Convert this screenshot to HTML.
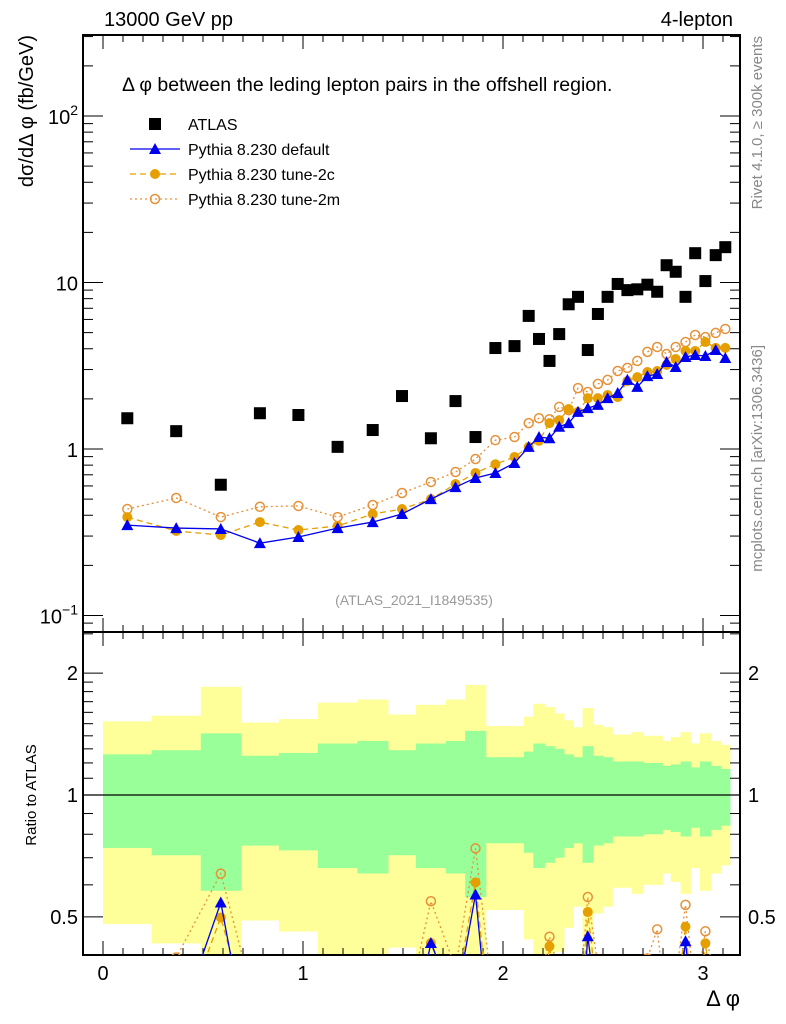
<!DOCTYPE html>
<html><head><meta charset="utf-8"><style>
html,body{margin:0;padding:0;background:#fff;width:786px;height:1024px;overflow:hidden}
svg{display:block;font-family:"Liberation Sans",sans-serif}
</style></head><body>
<svg id="c" width="786" height="1024" viewBox="0 0 786 1024"></svg>
<script>
const edges=[0,0.243,0.489,0.689,0.88,1.074,1.272,1.425,1.565,1.714,1.811,1.914,2.01,2.105,2.152,2.208,2.257,2.305,2.352,2.398,2.45,2.499,2.547,2.6,2.644,2.699,2.745,2.797,2.839,2.888,2.937,2.985,3.039,3.088,3.135];
const atlas=[1.53,1.28,0.61,1.64,1.6,1.03,1.3,2.08,1.16,1.94,1.18,4.04,4.15,6.3,4.58,3.38,4.9,7.4,8.2,3.93,6.47,8.2,9.8,9.0,9.1,9.7,8.8,12.7,11.6,8.2,15.0,10.2,14.6,16.3];
const pyDefault=[0.349,0.335,0.331,0.272,0.296,0.335,0.364,0.407,0.50,0.59,0.67,0.718,0.824,1.03,1.18,1.16,1.36,1.43,1.67,1.76,1.84,2.02,2.17,2.6,2.36,2.74,2.82,3.33,3.11,3.57,3.67,3.62,3.93,3.52];
const pyTune2c=[0.39,0.322,0.304,0.364,0.326,0.345,0.407,0.436,0.50,0.616,0.718,0.81,0.895,1.03,1.12,1.43,1.49,1.74,1.67,2.02,2.02,2.11,2.05,2.56,2.7,2.9,2.94,3.2,3.47,3.88,3.88,4.39,4.05,4.05];
const pyTune2m=[0.436,0.508,0.39,0.45,0.455,0.39,0.461,0.544,0.634,0.727,0.871,1.13,1.18,1.43,1.53,1.51,1.79,1.71,2.32,2.2,2.46,2.6,2.94,3.07,3.38,3.83,4.1,3.72,4.1,4.39,4.84,4.7,4.98,5.26];
const relTotal=[0.52,0.57,0.85,0.51,0.54,0.69,0.72,0.58,0.67,0.72,0.87,0.48,0.48,0.56,0.68,0.65,0.59,0.53,0.47,0.64,0.49,0.47,0.41,0.41,0.43,0.40,0.40,0.36,0.39,0.43,0.34,0.42,0.36,0.33];
const relStat=[0.26,0.29,0.42,0.25,0.27,0.34,0.36,0.29,0.34,0.36,0.44,0.24,0.24,0.28,0.34,0.32,0.30,0.26,0.24,0.32,0.25,0.24,0.21,0.21,0.21,0.20,0.20,0.18,0.19,0.21,0.17,0.21,0.18,0.16];
const xTicks=[0,1,2,3];

const NS="http://www.w3.org/2000/svg";
const svg=document.getElementById('c');
function el(tag,attrs,parent){const e=document.createElementNS(NS,tag);for(const k in attrs)e.setAttribute(k,attrs[k]);(parent||svg).appendChild(e);return e;}
const L=83,R=740,T=35,MB=632,RB=955;
const X=v=>103+v*200;
const Y=v=>449-166.5*Math.log10(v);
const RY=v=>795-405*Math.log10(v);
const centers=atlas.map((_,i)=>(edges[i]+edges[i+1])/2);

const defs=el('defs',{});
const c1=el('clipPath',{id:'cm'},defs);el('rect',{x:L,y:T,width:R-L,height:MB-T},c1);
const c2=el('clipPath',{id:'cr'},defs);el('rect',{x:L,y:MB,width:R-L,height:RB-MB},c2);

const gb=el('g',{'clip-path':'url(#cr)'});


for(let i=0;i<atlas.length;i++){
  const x0=X(edges[i]),x1=X(edges[i+1]);
  const y=el('rect',{x:x0,y:RY(1+relTotal[i]),width:x1-x0+0.5,height:RY(Math.max(1-relTotal[i],0.05))-RY(1+relTotal[i]),fill:'#ffff99'},gb);
  
  
}
for(let i=0;i<atlas.length;i++){
  const x0=X(edges[i]),x1=X(edges[i+1]);
  const g=el('rect',{x:x0,y:RY(1+relStat[i]),width:x1-x0+0.5,height:RY(1-relStat[i])-RY(1+relStat[i]),fill:'#99ff99'},gb);
  
  
}
const one=el('line',{x1:L,x2:R,y1:RY(1),y2:RY(1),stroke:'#000','stroke-width':1.2});



const f1=el('rect',{x:L,y:T,width:R-L,height:MB-T,fill:'none',stroke:'#000','stroke-width':2});


const f2=el('rect',{x:L,y:MB,width:R-L,height:RB-MB,fill:'none',stroke:'#000','stroke-width':2});



for(let k=0;k<=31;k++){const v=k/10;const x=X(v);if(x>R)break;const maj=k%10===0;const len=maj?14:7;
  [[T,1],[MB,-1],[MB,1],[RB,-1]].forEach(([y0,d])=>el('line',{x1:x,x2:x,y1:y0,y2:y0+d*len,stroke:'#000','stroke-width':1}));}
xTicks.forEach(v=>{const t=el('text',{x:X(v),y:980,'font-size':20,'text-anchor':'middle'});t.textContent=v;
  });
for(let e=-2;e<=2;e++)for(let m=1;m<=9;m++){const v=m*Math.pow(10,e);const y=Y(v);if(y<T||y>MB)continue;const len=m===1?20:10;
  el('line',{x1:L,x2:L+len,y1:y,y2:y,stroke:'#000'});el('line',{x1:R,x2:R-len,y1:y,y2:y,stroke:'#000'});}
[[100,'10','2'],[10,'10',''],[1,'1',''],[0.1,'10','−1']].forEach(([v,b,s])=>{const t=el('text',{x:78,y:Y(v)+8,'font-size':20,'text-anchor':'end'});
  
  t.textContent=b;if(s){const sp=el('tspan',{dy:-9,'font-size':14},t);sp.textContent=s;}});
[0.4,0.5,0.6,0.7,0.8,0.9,1,1.1,1.2,1.3,1.4,1.5,1.6,1.7,1.8,1.9,2,2.5].forEach(v=>{const y=RY(v);if(y<MB||y>RB)return;const maj=(v===0.5||v===1||v===2);const len=maj?20:10;
  el('line',{x1:L,x2:L+len,y1:y,y2:y,stroke:'#000'});el('line',{x1:R,x2:R-len,y1:y,y2:y,stroke:'#000'});});
[[2,'2'],[1,'1'],[0.5,'0.5']].forEach(([v,s])=>{const a=el('text',{x:78,y:RY(v)+7,'font-size':20,'text-anchor':'end'});a.textContent=s;
  
  const b=el('text',{x:748,y:RY(v)+7,'font-size':20});b.textContent=s;
  });

const series=[
 {d:pyDefault,c:'#0000ee',dash:'',m:'tri',name:'pythia-default'},
 {d:pyTune2c,c:'#e69f00',dash:'6,4',m:'dot',name:'pythia-tune-2c'},
 {d:pyTune2m,c:'#e69138',dash:'2,3',m:'ring',name:'pythia-tune-2m'}];
function marker(type,x,y,c,g){
  if(type==='tri')return el('path',{d:`M${x},${y-6}L${x+6},${y+5}L${x-6},${y+5}Z`,fill:c},g);
  if(type==='dot')return el('circle',{cx:x,cy:y,r:5,fill:c},g);
  if(type==='ring')return el('circle',{cx:x,cy:y,r:4.5,fill:'none',stroke:c,'stroke-width':1.5},g);
  return el('rect',{x:x-6,y:y-6,width:12,height:12,fill:c},g);
}
[series[2],series[1],series[0]].forEach(s=>{
  const g=el('g',{'clip-path':'url(#cm)'});
  
  
  el('polyline',{points:s.d.map((v,i)=>X(centers[i])+','+Y(v)).join(' '),fill:'none',stroke:s.c,'stroke-width':1.3,'stroke-dasharray':s.dash},g);
  s.d.forEach((v,i)=>{const m=marker(s.m,X(centers[i]),Y(v),s.c,g);});
  const gr=el('g',{'clip-path':'url(#cr)'});
  
  
  const r=s.d.map((v,i)=>v/atlas[i]);
  el('polyline',{points:r.map((v,i)=>X(centers[i])+','+RY(v)).join(' '),fill:'none',stroke:s.c,'stroke-width':1.3,'stroke-dasharray':s.dash},gr);
  r.forEach((v,i)=>{const m=marker(s.m,X(centers[i]),RY(v),s.c,gr);});
});
const ga=el('g',{'clip-path':'url(#cm)'});


atlas.forEach((v,i)=>{const m=marker('sq',X(centers[i]),Y(v),'#000',ga);});

const lg=el('g',{});


const items=[['sq','#000','','ATLAS'],['tri','#0000ee','','Pythia 8.230 default'],['dot','#e69f00','6,4','Pythia 8.230 tune-2c'],['ring','#e69138','2,3','Pythia 8.230 tune-2m']];
items.forEach((it,k)=>{const y=124+k*25;
  if(k>0)el('line',{x1:130,x2:180,y1:y,y2:y,stroke:it[1],'stroke-width':1.3,'stroke-dasharray':it[2]},lg);
  marker(it[0],155,y,it[1],lg);
  const t=el('text',{x:188,y:y+6,'font-size':16},lg);t.textContent=it[3];
  });

function txt(s,a,name){const t=el('text',a);t.textContent=s;return t;}
txt('13000 GeV pp',{x:104,y:26,'font-size':20},'energy-label');
txt('4-lepton',{x:733,y:26,'font-size':20,'text-anchor':'end'},'process-label');
txt('Δ φ between the leding lepton pairs in the offshell region.',{x:122,y:91,'font-size':19.5},'plot-title');
txt('(ATLAS_2021_I1849535)',{x:414,y:605,'font-size':14,'text-anchor':'middle',fill:'#999'},'analysis-id');
txt('dσ/dΔ φ (fb/GeV)',{x:0,y:0,'font-size':20,'text-anchor':'end',transform:'translate(33,35) rotate(-90)'},'y-axis-title');
txt('Ratio to ATLAS',{x:0,y:0,'font-size':15,'text-anchor':'middle',transform:'translate(36,795) rotate(-90)'},'ratio-axis-title');
txt('Δ φ',{x:740,y:1006,'font-size':22,'text-anchor':'end'},'x-axis-title');
txt('Rivet 4.1.0, ≥ 300k events',{x:0,y:0,'font-size':15,'text-anchor':'end',fill:'#888',transform:'translate(762,36) rotate(-90)'},'rivet-label');
txt('mcplots.cern.ch [arXiv:1306.3436]',{x:0,y:0,'font-size':15,'text-anchor':'end',fill:'#888',transform:'translate(762,345) rotate(-90)'},'mcplots-label');
</script>
</body></html>
